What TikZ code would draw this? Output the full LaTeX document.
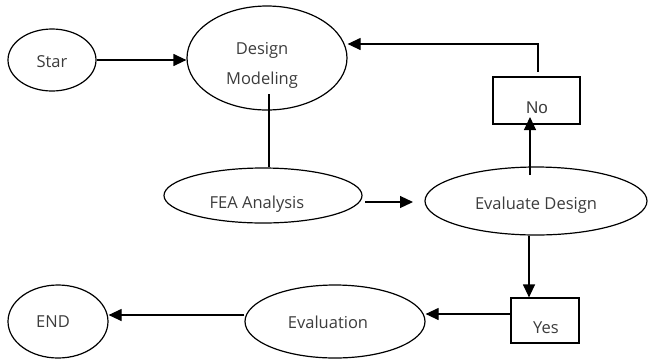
\documentclass[tikz,border=0pt]{standalone}
\usepackage{fontspec}
\setmainfont{Open Sans}
\newfontfamily\arialfont{Liberation Sans}
\usetikzlibrary{arrows.meta,shapes.geometric}
\definecolor{txt}{RGB}{60,60,60}
% \lbltext{horizontal shift x2}{baseline drop}{text}
\newcommand{\lbltext}[3]{\raisebox{-#2}[0pt][0pt]{\makebox[0pt]{\hspace*{#1}#3}}}
\begin{document}
\begin{tikzpicture}[x=1pt,y=-1pt,
  lbl/.style={text=txt,font=\fontsize{16.5}{19}\selectfont},
  oval/.style={draw,line width=1.2pt,ellipse,inner sep=0pt,lbl},
  boxnode/.style={draw,line width=1.2pt,rectangle,inner sep=0pt,lbl},
  link/.style={line width=1.2pt},
  arrowlink/.style={line width=1.2pt,-{Triangle[length=13pt,width=12pt]}}]
\useasboundingbox (0,0) rectangle (648,360);
\node[oval,minimum width=88pt,minimum height=62pt] (star) at (52,60) {\lbltext{0pt}{7pt}{Star}};
\node[oval,minimum width=160pt,minimum height=104pt] (design) at (267,58)
  {\lbltext{-10pt}{26pt}{\vbox{\baselineskip=30pt\halign{\hfil#\hfil\cr Design\cr Modeling\cr}}}};
\node[oval,minimum width=198pt,minimum height=55pt] (fea) at (263,195.5) {\lbltext{-12pt}{12.5pt}{FEA Analysis}};
\node[oval,minimum width=222pt,minimum height=68pt] (eval) at (536,201) {\lbltext{0pt}{8pt}{Evaluate Design}};
\node[boxnode,minimum width=87pt,minimum height=47pt,font=\arialfont\fontsize{17}{19}\selectfont] (no) at (536.5,100.5) {\lbltext{1pt}{12.5pt}{No}};
\node[boxnode,minimum width=68pt,minimum height=45pt] (yes) at (545,320.5) {\lbltext{2pt}{12.5pt}{Yes}};
\node[oval,minimum width=180pt,minimum height=73pt] (evaluation) at (335,321.5) {\lbltext{-14pt}{6.5pt}{Evaluation}};
\node[oval,minimum width=100pt,minimum height=73pt] (endn) at (58,321.5) {\lbltext{-10pt}{5.5pt}{END}};
\coordinate (dmbot) at (269,94);
\coordinate (noin) at (530,117);
\coordinate (nofrom) at (538,72);
\coordinate (corner) at (538,44);
\coordinate (feaout) at (365,202);
\coordinate (evalin) at (413,202);
\coordinate (evtop) at (530,175);
\draw[arrowlink] (star.east) -- (design.west |- star.east);
\draw[link] (dmbot) -- (fea.north -| dmbot);
\draw[arrowlink] (feaout) -- (evalin);
\draw[arrowlink] (evtop) -- (noin);
\draw[arrowlink] (nofrom) -- (corner) -- (design.east |- corner);
\draw[arrowlink] (eval.south -| 529,0) -- (yes.north -| 529,0);
\draw[arrowlink] (yes.west |- 0,314) -- (evaluation.east |- 0,314);
\draw[arrowlink] (evaluation.west |- 0,315) -- (endn.east |- 0,315);
\end{tikzpicture}
\end{document}
